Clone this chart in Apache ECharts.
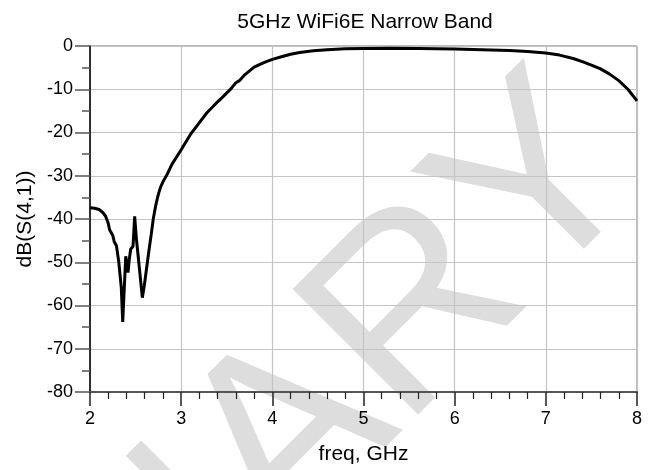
<!DOCTYPE html>
<html>
<head>
<meta charset="utf-8">
<script src="https://cdn.jsdelivr.net/npm/echarts@6/dist/echarts.min.js"></script>
<style>html,body{margin:0;padding:0;background:#fff}#c{width:650px;height:470px}</style>
</head>
<body>
<div id="c"></div>
<script>
var titleText = '5GHz WiFi6E Narrow Band';
var xName = 'freq, GHz';
var yName = 'dB(S(4,1))';
var freq = [2.00,2.05,2.10,2.14,2.17,2.20,2.215,2.225,2.235,2.25,2.265,2.275,2.29,2.315,2.343,2.359,2.373,2.392,2.405,2.417,2.43,2.446,2.472,2.49,2.508,2.528,2.545,2.574,2.595,2.62,2.645,2.672,2.694,2.71,2.725,2.74,2.755,2.775,2.80,2.841,2.90,3.00,3.10,3.20,3.28,3.40,3.46,3.55,3.58,3.60,3.62,3.64,3.70,3.80,3.90,4.00,4.10,4.20,4.30,4.45,4.60,4.80,5.00,5.30,5.60,6.00,6.30,6.60,6.80,7.00,7.15,7.30,7.40,7.50,7.60,7.70,7.80,7.90,8.00];
var s41 = [-37.4,-37.5,-37.8,-38.5,-39.3,-41.0,-42.5,-42.8,-42.6,-43.8,-45.2,-45.0,-46.2,-49.8,-55.8,-63.8,-57.4,-48.6,-50.5,-52.4,-49.5,-47.0,-46.3,-39.4,-44.4,-48.5,-52.1,-58.2,-55.5,-51.5,-47.5,-43.5,-40.0,-38.1,-36.5,-35.1,-33.9,-32.6,-31.4,-29.9,-27.3,-24.0,-20.5,-17.7,-15.5,-12.9,-11.7,-9.8,-9.0,-8.5,-8.4,-8.0,-6.6,-4.9,-3.9,-3.1,-2.5,-1.9,-1.5,-1.1,-0.85,-0.65,-0.55,-0.5,-0.55,-0.7,-0.85,-1.05,-1.25,-1.6,-2.1,-2.9,-3.6,-4.4,-5.3,-6.5,-8.0,-10.0,-12.7];
var watermark = 'PRELIMINARY';

var data = freq.map(function (f, i) { return [f, s41[i]]; });
var chart = echarts.init(document.getElementById('c'), null, {renderer: 'canvas'});
var FONT = '"Liberation Sans", Arial, sans-serif';
chart.setOption({
  backgroundColor: '#ffffff',
  animation: false,
  title: {
    text: titleText, left: 360, top: 7, textAlign: 'center',
    textStyle: {fontFamily: FONT, fontSize: 21, fontWeight: 'normal', color: '#000'}
  },
  graphic: [{
    type: 'text', x: 603, y: 129, rotation: Math.PI / 4, z: -10, silent: true,
    style: {text: watermark, font: '258px "Liberation Sans", Arial, sans-serif', fill: '#dddddd',
      textAlign: 'right', textVerticalAlign: 'middle'}
  }],
  grid: {left: 90, right: 13, top: 46, bottom: 77, show: true, borderColor: '#777', borderWidth: 1, backgroundColor: 'transparent'},
  xAxis: {
    type: 'value', min: 2, max: 8, interval: 1,
    name: xName, nameLocation: 'middle', nameGap: 52,
    nameTextStyle: {fontFamily: FONT, fontSize: 21, color: '#000'},
    axisLine: {show: true, onZero: false, lineStyle: {color: '#555', width: 2}},
    axisTick: {show: true, length: 14, lineStyle: {color: '#222', width: 1.5}},
    minorTick: {show: true, splitNumber: 5, length: 7, lineStyle: {color: '#222', width: 1.2}},
    axisLabel: {margin: 18, fontFamily: FONT, fontSize: 18, color: '#000'},
    splitLine: {show: true, lineStyle: {color: '#c4c4c4', width: 1.2}}
  },
  yAxis: {
    type: 'value', min: -80, max: 0, interval: 10,
    name: yName, nameLocation: 'middle', nameGap: 52,
    nameTextStyle: {fontFamily: FONT, fontSize: 21, color: '#000'},
    axisLine: {show: true, onZero: false, lineStyle: {color: '#000', width: 1.5}},
    axisTick: {show: true, length: 15, lineStyle: {color: '#555', width: 1.5}},
    minorTick: {show: true, splitNumber: 2, length: 8, lineStyle: {color: '#555', width: 1.5}},
    axisLabel: {margin: 17, fontFamily: FONT, fontSize: 18, color: '#000'},
    splitLine: {show: true, lineStyle: {color: '#c4c4c4', width: 1.2}}
  },
  series: [{
    type: 'line', data: data, showSymbol: false, symbol: 'none',
    lineStyle: {color: '#000', width: 3}, z: 5
  }]
});
</script>
</body>
</html>
